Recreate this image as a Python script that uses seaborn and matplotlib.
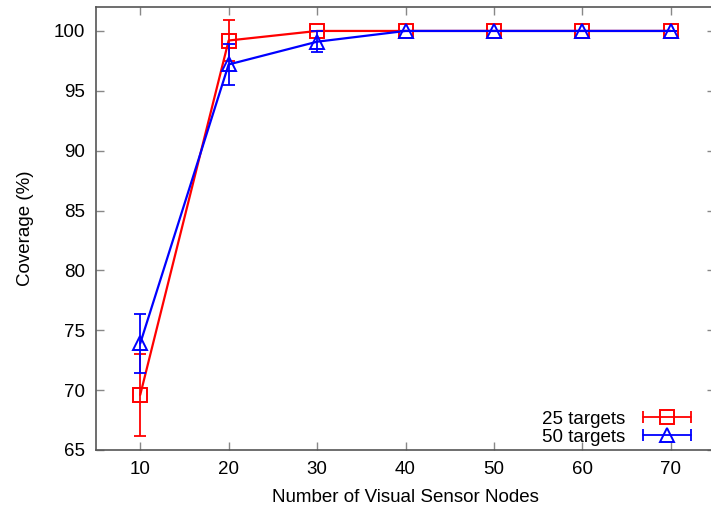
import matplotlib
matplotlib.use("Agg")
import matplotlib.pyplot as plt
import seaborn as sns
import pandas as pd
from matplotlib.lines import Line2D
from matplotlib.legend_handler import HandlerLine2D

# Data
nodes = [10, 20, 30, 40, 50, 60, 70]
cov_25 = [69.6, 99.2, 100.0, 100.0, 100.0, 100.0, 100.0]
err_25 = [3.4, 1.7, 0.0, 0.0, 0.0, 0.0, 0.0]
cov_50 = [73.9, 97.2, 99.1, 100.0, 100.0, 100.0, 100.0]
err_50 = [2.5, 1.7, 0.9, 0.0, 0.0, 0.0, 0.0]
series_names = ["25 targets", "50 targets"]

df = pd.DataFrame({
    "nodes": nodes * 2,
    "coverage": cov_25 + cov_50,
    "err": err_25 + err_50,
    "series": [series_names[0]] * len(nodes) + [series_names[1]] * len(nodes),
})

sns.set_style("ticks")
plt.rcParams["font.family"] = ["Liberation Sans", "DejaVu Sans"]
plt.rcParams["font.size"] = 13.5
plt.rcParams["text.color"] = "black"
plt.rcParams["axes.labelcolor"] = "black"
plt.rcParams["xtick.labelcolor"] = "black"
plt.rcParams["ytick.labelcolor"] = "black"

fig = plt.figure(figsize=(7.11, 5.12), dpi=100)
ax = fig.add_axes([96 / 711, 1 - 450 / 512, (715 - 96) / 711, (450 - 7) / 512])

colors = {"25 targets": "#ff0000", "50 targets": "#0000ff"}
markers = {"25 targets": "s", "50 targets": "^"}

handles = []
for name in series_names:
    sub = df[df["series"] == name]
    c = colors[name]
    ax.errorbar(sub["nodes"], sub["coverage"], yerr=sub["err"], fmt="none",
                ecolor=c, elinewidth=1.3, capsize=4, capthick=1.3)
    sns.lineplot(data=sub, x="nodes", y="coverage", ax=ax, color=c,
                 linewidth=1.6, marker=markers[name], markersize=10,
                 markerfacecolor="none", markeredgecolor=c, markeredgewidth=1.4,
                 legend=False)
    caps = Line2D([], [], color=c, linewidth=1.3, marker="|", markersize=8,
                  markeredgewidth=1.3)
    mk = Line2D([], [], color=c, linestyle="none", marker=markers[name],
                markersize=10, markerfacecolor="none", markeredgecolor=c,
                markeredgewidth=1.4)
    handles.append((caps, mk))

hmap = {}
for caps, mk in handles:
    hmap[caps] = HandlerLine2D(numpoints=2)
    hmap[mk] = HandlerLine2D(numpoints=1)

leg = ax.legend(handles, series_names, handler_map=hmap, loc="lower right",
                bbox_to_anchor=(0.992, -0.02), frameon=False, markerfirst=False,
                handlelength=3.2, handletextpad=0.6, labelspacing=0.05,
                fontsize=13.5, borderaxespad=0.3)

ax.set_xlim(5, 75)
ax.set_ylim(65, 102)
ax.set_xticks(nodes)
ax.set_yticks([65, 70, 75, 80, 85, 90, 95, 100])
ax.set_xlabel("Number of Visual Sensor Nodes", labelpad=8)
ax.set_ylabel("Coverage (%)", labelpad=14)
ax.tick_params(direction="in", length=6, width=1, color="#888888",
               top=True, right=True, labelsize=13.5, pad=8)
for sp in ax.spines.values():
    sp.set_color("#555555")
    sp.set_linewidth(1.2)

fig.savefig("out.png", dpi=100)
